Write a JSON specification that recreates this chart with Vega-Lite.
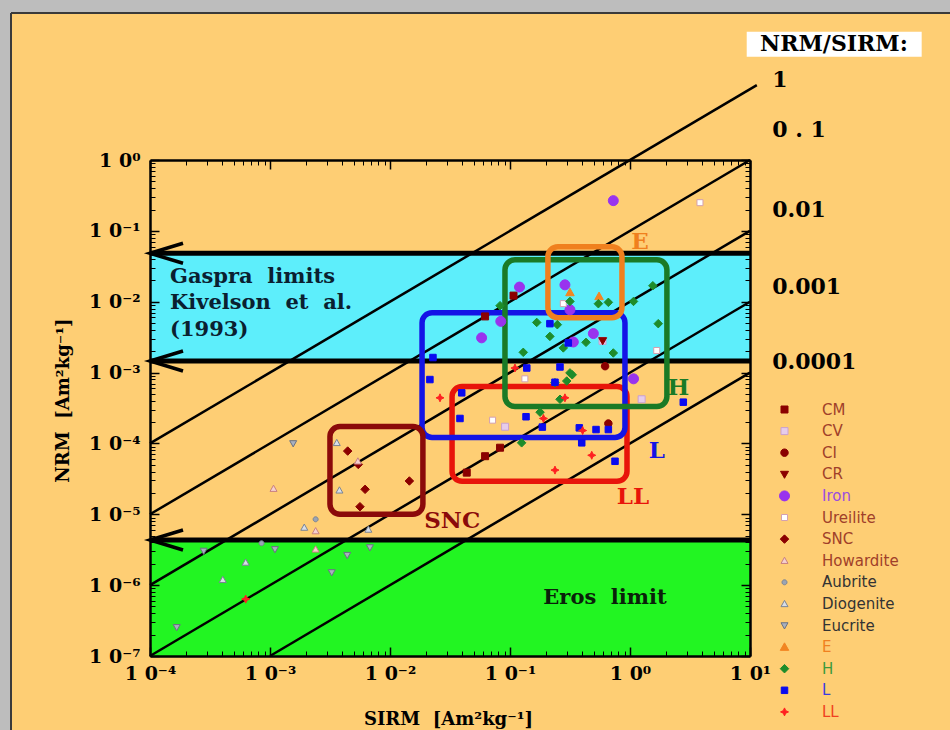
{
  "$schema": "https://vega.github.io/schema/vega-lite/v6.json",
  "width": 600,
  "height": 496,
  "autosize": {"type": "none"},
  "padding": {"left": 150, "top": 160, "right": 200, "bottom": 74},
  "background": "#BDBDBD",
  "config": {"view": {"stroke": null}, "axis": {"grid": false, "tickColor": "black", "domainColor": "black", "labelColor": "black", "titleColor": "black"}},
  "datasets": {
    "frame": [{"x": 6.945e-6, "x2": 5000, "y": 118.8, "y2": 1e-9}],
    "frameedges": [
      {"edge": "left", "x": 6.945e-6, "x2": 6.945e-6, "y": 118.8, "y2": 1e-9},
      {"edge": "top", "x": 6.945e-6, "x2": 5000, "y": 118.8, "y2": 118.8}
    ],
    "gaspra": [{"x": 0.0001, "x2": 10, "y": 0.001457, "y2": 0.04825}],
    "eros": [{"x": 0.0001, "x2": 10, "y": 1e-7, "y2": 4.34e-6}],
    "limits": [
      {"limit": "Gaspra upper", "x": 0.0001, "x2": 10, "y": 0.04825},
      {"limit": "Gaspra lower", "x": 0.0001, "x2": 10, "y": 0.001457},
      {"limit": "Eros", "x": 0.0001, "x2": 10, "y": 4.34e-6}
    ],
    "arrows": [
      {"limit": "Gaspra upper", "k": 0, "x": 0.0001884, "y": 0.0668},
      {"limit": "Gaspra upper", "k": 1, "x": 0.0001, "y": 0.04825},
      {"limit": "Gaspra upper", "k": 2, "x": 0.0001884, "y": 0.03486},
      {"limit": "Gaspra lower", "k": 0, "x": 0.0001884, "y": 0.002017},
      {"limit": "Gaspra lower", "k": 1, "x": 0.0001, "y": 0.001457},
      {"limit": "Gaspra lower", "k": 2, "x": 0.0001884, "y": 0.001053},
      {"limit": "Eros", "k": 0, "x": 0.0001884, "y": 6.01e-6},
      {"limit": "Eros", "k": 1, "x": 0.0001, "y": 4.34e-6},
      {"limit": "Eros", "k": 2, "x": 0.0001884, "y": 3.136e-6}
    ],
    "ratios": [
      {"ratio": "1", "x": 0.0001, "y": 0.0001},
      {"ratio": "1", "x": 11.4, "y": 11.4},
      {"ratio": "0.1", "x": 0.0001, "y": 1e-5},
      {"ratio": "0.1", "x": 10, "y": 1},
      {"ratio": "0.01", "x": 0.0001, "y": 1e-6},
      {"ratio": "0.01", "x": 10, "y": 0.1},
      {"ratio": "0.001", "x": 0.0001, "y": 1e-7},
      {"ratio": "0.001", "x": 10, "y": 0.01},
      {"ratio": "0.0001", "x": 0.001, "y": 1e-7},
      {"ratio": "0.0001", "x": 10, "y": 0.001}
    ],
    "boxes": [
      {"group": "LL", "x": 0.0329, "x2": 0.944, "y": 2.92e-5, "y2": 0.000635},
      {"group": "L", "x": 0.0185, "x2": 0.908, "y": 0.0001215, "y2": 0.007},
      {"group": "H", "x": 0.0908, "x2": 2.03, "y": 0.000332, "y2": 0.0391},
      {"group": "E", "x": 0.207, "x2": 0.857, "y": 0.00595, "y2": 0.0595},
      {"group": "SNC", "x": 0.00316, "x2": 0.0188, "y": 1.0e-5, "y2": 0.000173}
    ],
    "boxlabels": [
      {"group": "E", "x": 1.21, "y": 0.0707},
      {"group": "H", "x": 2.53, "y": 0.000608},
      {"group": "L", "x": 1.67, "y": 7.8e-5},
      {"group": "LL", "x": 1.06, "y": 1.74e-5},
      {"group": "SNC", "x": 0.033, "y": 7.95e-6}
    ],
    "notes": [
      {"label": "Gaspra\u00a0\u00a0limits", "x": 0.0001468, "y": 0.02233},
      {"label": "Kivelson\u00a0\u00a0et\u00a0\u00a0al.", "x": 0.0001468, "y": 0.00959},
      {"label": "(1993)", "x": 0.0001468, "y": 0.00399}
    ],
    "eroslabel": [{"label": "Eros\u00a0\u00a0limit", "x": 0.619, "y": 6.59e-7}],
    "ratiolabels": [
      {"label": "1", "x": 15.3, "y": 13.5},
      {"label": "0\u00a0.\u00a01", "x": 15.3, "y": 2.65},
      {"label": "0.01", "x": 15.3, "y": 0.197},
      {"label": "0.001", "x": 15.3, "y": 0.01614},
      {"label": "0.0001", "x": 15.3, "y": 0.00141}
    ],
    "keybox": [{"x": 9.39, "x2": 269.6, "y": 28.7, "y2": 64.66}],
    "keytitle": [{"label": "NRM/SIRM:", "x": 50.1, "y": 43.4}],
    "meteorites": [
      {"class": "CM", "x": 0.107, "y": 0.0122},
      {"class": "CM", "x": 0.062, "y": 0.0062},
      {"class": "CM", "x": 0.0436, "y": 3.87e-5},
      {"class": "CM", "x": 0.062, "y": 6.6e-5},
      {"class": "CM", "x": 0.0826, "y": 8.7e-5},
      {"class": "CV", "x": 1.25, "y": 0.00042},
      {"class": "CV", "x": 0.091, "y": 0.000172},
      {"class": "CV", "x": 0.59, "y": 0.0028},
      {"class": "CI", "x": 0.62, "y": 0.00123},
      {"class": "CI", "x": 0.66, "y": 0.000191},
      {"class": "CR", "x": 0.592, "y": 0.00282},
      {"class": "Iron", "x": 0.726, "y": 0.267},
      {"class": "Iron", "x": 0.12, "y": 0.0161},
      {"class": "Iron", "x": 0.287, "y": 0.0173},
      {"class": "Iron", "x": 0.316, "y": 0.0077},
      {"class": "Iron", "x": 0.058, "y": 0.00309},
      {"class": "Iron", "x": 0.495, "y": 0.00355},
      {"class": "Iron", "x": 0.337, "y": 0.0027},
      {"class": "Iron", "x": 1.07, "y": 0.000816},
      {"class": "Iron", "x": 0.0838, "y": 0.00528},
      {"class": "Ureilite", "x": 3.83, "y": 0.25},
      {"class": "Ureilite", "x": 0.278, "y": 0.0094},
      {"class": "Ureilite", "x": 1.67, "y": 0.00205},
      {"class": "Ureilite", "x": 0.133, "y": 0.000816},
      {"class": "Ureilite", "x": 0.0716, "y": 0.000213},
      {"class": "SNC", "x": 0.00444, "y": 7.8e-5},
      {"class": "SNC", "x": 0.00544, "y": 5.06e-5},
      {"class": "SNC", "x": 0.0062, "y": 2.25e-5},
      {"class": "SNC", "x": 0.00562, "y": 1.28e-5},
      {"class": "SNC", "x": 0.0145, "y": 2.95e-5},
      {"class": "Howardite", "x": 0.00107, "y": 2.3e-5},
      {"class": "Howardite", "x": 0.0024, "y": 5.8e-6},
      {"class": "Howardite", "x": 0.0024, "y": 3.2e-6},
      {"class": "Howardite", "x": 0.0054, "y": 5.6e-5},
      {"class": "Aubrite", "x": 0.00085, "y": 3.9e-6},
      {"class": "Aubrite", "x": 0.0024, "y": 8.5e-6},
      {"class": "Diogenite", "x": 0.0036, "y": 0.000102},
      {"class": "Diogenite", "x": 0.00379, "y": 2.18e-5},
      {"class": "Diogenite", "x": 0.00193, "y": 6.5e-6},
      {"class": "Diogenite", "x": 0.0066, "y": 6.1e-6},
      {"class": "Diogenite", "x": 0.000627, "y": 2.09e-6},
      {"class": "Diogenite", "x": 0.000404, "y": 1.19e-6},
      {"class": "Eucrite", "x": 0.00156, "y": 0.0001},
      {"class": "Eucrite", "x": 0.00028, "y": 3.04e-6},
      {"class": "Eucrite", "x": 0.0011, "y": 3.2e-6},
      {"class": "Eucrite", "x": 0.0044, "y": 2.65e-6},
      {"class": "Eucrite", "x": 0.0068, "y": 3.4e-6},
      {"class": "Eucrite", "x": 0.00327, "y": 1.51e-6},
      {"class": "Eucrite", "x": 0.000167, "y": 2.54e-7},
      {"class": "E", "x": 0.316, "y": 0.0135},
      {"class": "E", "x": 0.552, "y": 0.0119},
      {"class": "H", "x": 0.316, "y": 0.0101},
      {"class": "H", "x": 0.545, "y": 0.00937},
      {"class": "H", "x": 0.66, "y": 0.0098},
      {"class": "H", "x": 1.07, "y": 0.0101},
      {"class": "H", "x": 1.55, "y": 0.0168},
      {"class": "H", "x": 1.72, "y": 0.0049},
      {"class": "H", "x": 0.0826, "y": 0.00879},
      {"class": "H", "x": 0.167, "y": 0.0051},
      {"class": "H", "x": 0.248, "y": 0.00474},
      {"class": "H", "x": 0.215, "y": 0.00324},
      {"class": "H", "x": 0.43, "y": 0.00267},
      {"class": "H", "x": 0.278, "y": 0.00223},
      {"class": "H", "x": 0.129, "y": 0.00193},
      {"class": "H", "x": 0.726, "y": 0.00189},
      {"class": "H", "x": 0.316, "y": 0.00099},
      {"class": "H", "x": 0.297, "y": 0.00076},
      {"class": "H", "x": 0.261, "y": 0.00042},
      {"class": "H", "x": 0.178, "y": 0.000276},
      {"class": "H", "x": 0.125, "y": 0.000102},
      {"class": "H", "x": 0.237, "y": 0.00072},
      {"class": "H", "x": 0.33, "y": 0.00093},
      {"class": "L", "x": 0.215, "y": 0.0049},
      {"class": "L", "x": 0.306, "y": 0.00262},
      {"class": "L", "x": 0.138, "y": 0.00116},
      {"class": "L", "x": 0.261, "y": 0.0012},
      {"class": "L", "x": 0.0215, "y": 0.000797},
      {"class": "L", "x": 0.237, "y": 0.00073},
      {"class": "L", "x": 0.0396, "y": 0.000518},
      {"class": "L", "x": 0.0383, "y": 0.000225},
      {"class": "L", "x": 0.136, "y": 0.000238},
      {"class": "L", "x": 0.186, "y": 0.00017},
      {"class": "L", "x": 0.378, "y": 0.000166},
      {"class": "L", "x": 0.521, "y": 0.000157},
      {"class": "L", "x": 0.66, "y": 0.000157},
      {"class": "L", "x": 0.396, "y": 0.000102},
      {"class": "L", "x": 0.75, "y": 5.6e-5},
      {"class": "L", "x": 2.78, "y": 0.000382},
      {"class": "L", "x": 0.0228, "y": 0.00163},
      {"class": "LL", "x": 0.11, "y": 0.00116},
      {"class": "LL", "x": 0.287, "y": 0.00044},
      {"class": "LL", "x": 0.0261, "y": 0.00044},
      {"class": "LL", "x": 0.19, "y": 0.000225},
      {"class": "LL", "x": 0.403, "y": 0.000152},
      {"class": "LL", "x": 0.48, "y": 6.8e-5},
      {"class": "LL", "x": 0.237, "y": 4.2e-5},
      {"class": "LL", "x": 0.000627, "y": 6.35e-7}
    ]
  },
  "encoding": {
    "x": {"field": "x", "type": "quantitative", "scale": {"type": "log", "domain": [0.0001, 10], "nice": false}, "axis": null},
    "y": {"field": "y", "type": "quantitative", "scale": {"type": "log", "domain": [1e-7, 1], "nice": false}, "axis": null}
  },
  "resolve": {"axis": {"x": "independent", "y": "independent"}},
  "layer": [
    {
      "data": {"name": "frame"},
      "mark": {"type": "rect", "fill": "#FECE74", "clip": false},
      "encoding": {"x2": {"field": "x2"}, "y2": {"field": "y2"}}
    },
    {
      "data": {"name": "frameedges"},
      "mark": {"type": "rule", "color": "#3A3A3A", "strokeWidth": 2, "clip": false},
      "encoding": {"x2": {"field": "x2"}, "y2": {"field": "y2"}, "detail": {"field": "edge"}}
    },
    {
      "data": {"name": "gaspra"},
      "mark": {"type": "rect", "fill": "#5DEEFB"},
      "encoding": {
        "x": {"field": "x", "type": "quantitative", "scale": {"type": "log", "domain": [0.0001, 10], "nice": false},
          "axis": {"orient": "bottom", "values": [0.0001, 0.001, 0.01, 0.1, 1, 10], "tickSize": -9, "tickWidth": 1.5, "domain": true, "domainWidth": 2.5, "zindex": 1,
            "labelExpr": "'1 0' + (datum.value > 5 ? '¹' : datum.value > 0.5 ? '⁰' : '⁻' + ['','¹','²','³','⁴'][round(-log(datum.value)/LN10)])",
            "labelFont": "DejaVu Serif", "labelFontWeight": "bold", "labelFontSize": 19, "labelPadding": 26, "labelFlush": false, "labelOverlap": false, "labelBaseline": "middle",
            "title": "SIRM\u00a0\u00a0[Am²kg⁻¹]", "titleFont": "DejaVu Serif", "titleFontWeight": "bold", "titleFontSize": 18, "titleX": 298, "titleY": 68, "titleBaseline": "alphabetic"}},
        "x2": {"field": "x2"},
        "y": {"field": "y", "type": "quantitative", "scale": {"type": "log", "domain": [1e-7, 1], "nice": false},
          "axis": {"orient": "left", "values": [1, 0.1, 0.01, 0.001, 0.0001, 0.00001, 0.000001, 1e-7], "tickSize": -9, "tickWidth": 1.5, "domain": true, "domainWidth": 2.5, "zindex": 1,
            "labelExpr": "'1 0' + (datum.value > 0.5 ? '⁰' : '⁻' + ['','¹','²','³','⁴','⁵','⁶','⁷'][round(-log(datum.value)/LN10)])",
            "labelFont": "DejaVu Serif", "labelFontWeight": "bold", "labelFontSize": 19, "labelPadding": 19, "labelFlush": false, "labelOverlap": false, "labelBaseline": "middle",
            "title": "NRM\u00a0\u00a0[Am²kg⁻¹]", "titleFont": "DejaVu Serif", "titleFontWeight": "bold", "titleFontSize": 18, "titleX": -82, "titleY": 240, "titleAngle": -90, "titleBaseline": "alphabetic"}},
        "y2": {"field": "y2"}
      }
    },
    {
      "data": {"name": "eros"},
      "mark": {"type": "rect", "fill": "#22F522"},
      "encoding": {
        "x": {"field": "x", "type": "quantitative", "scale": {"type": "log", "domain": [0.0001, 10], "nice": false},
          "axis": {"orient": "bottom", "values": [0.0002,0.0003,0.0004,0.0005,0.0006,0.0007,0.0008,0.0009,0.002,0.003,0.004,0.005,0.006,0.007,0.008,0.009,0.02,0.03,0.04,0.05,0.06,0.07,0.08,0.09,0.2,0.3,0.4,0.5,0.6,0.7,0.8,0.9,2,3,4,5,6,7,8,9], "tickSize": -5, "tickWidth": 1, "labels": false, "domain": false, "title": null, "zindex": 1}},
        "x2": {"field": "x2"},
        "y": {"field": "y", "type": "quantitative", "scale": {"type": "log", "domain": [1e-7, 1], "nice": false},
          "axis": {"orient": "left", "values": [2e-7,3e-7,4e-7,5e-7,6e-7,7e-7,8e-7,9e-7,2e-6,3e-6,4e-6,5e-6,6e-6,7e-6,8e-6,9e-6,2e-5,3e-5,4e-5,5e-5,6e-5,7e-5,8e-5,9e-5,0.0002,0.0003,0.0004,0.0005,0.0006,0.0007,0.0008,0.0009,0.002,0.003,0.004,0.005,0.006,0.007,0.008,0.009,0.02,0.03,0.04,0.05,0.06,0.07,0.08,0.09,0.2,0.3,0.4,0.5,0.6,0.7,0.8,0.9], "tickSize": -5, "tickWidth": 1, "labels": false, "domain": false, "title": null, "zindex": 1}},
        "y2": {"field": "y2"}
      }
    },
    {
      "data": {"name": "limits"},
      "mark": {"type": "rule", "color": "black", "strokeWidth": 5},
      "encoding": {
        "x": {"field": "x", "type": "quantitative", "scale": {"type": "log", "domain": [0.0001, 10], "nice": false},
          "axis": {"orient": "top", "values": [0.0001, 0.001, 0.01, 0.1, 1, 10], "tickSize": -9, "tickWidth": 1.5, "labels": false, "domain": true, "domainWidth": 2.5, "title": null, "zindex": 1}},
        "x2": {"field": "x2"},
        "y": {"field": "y", "type": "quantitative", "scale": {"type": "log", "domain": [1e-7, 1], "nice": false},
          "axis": {"orient": "right", "values": [1, 0.1, 0.01, 0.001, 0.0001, 0.00001, 0.000001, 1e-7], "tickSize": -9, "tickWidth": 1.5, "labels": false, "domain": true, "domainWidth": 2.5, "title": null, "zindex": 1}}
      }
    },
    {
      "data": {"name": "arrows"},
      "mark": {"type": "line", "color": "black", "strokeWidth": 3.5},
      "encoding": {
        "x": {"field": "x", "type": "quantitative", "scale": {"type": "log", "domain": [0.0001, 10], "nice": false},
          "axis": {"orient": "top", "values": [0.0002,0.0003,0.0004,0.0005,0.0006,0.0007,0.0008,0.0009,0.002,0.003,0.004,0.005,0.006,0.007,0.008,0.009,0.02,0.03,0.04,0.05,0.06,0.07,0.08,0.09,0.2,0.3,0.4,0.5,0.6,0.7,0.8,0.9,2,3,4,5,6,7,8,9], "tickSize": -5, "tickWidth": 1, "labels": false, "domain": false, "title": null, "zindex": 1}},
        "y": {"field": "y", "type": "quantitative", "scale": {"type": "log", "domain": [1e-7, 1], "nice": false},
          "axis": {"orient": "right", "values": [2e-7,3e-7,4e-7,5e-7,6e-7,7e-7,8e-7,9e-7,2e-6,3e-6,4e-6,5e-6,6e-6,7e-6,8e-6,9e-6,2e-5,3e-5,4e-5,5e-5,6e-5,7e-5,8e-5,9e-5,0.0002,0.0003,0.0004,0.0005,0.0006,0.0007,0.0008,0.0009,0.002,0.003,0.004,0.005,0.006,0.007,0.008,0.009,0.02,0.03,0.04,0.05,0.06,0.07,0.08,0.09,0.2,0.3,0.4,0.5,0.6,0.7,0.8,0.9], "tickSize": -5, "tickWidth": 1, "labels": false, "domain": false, "title": null, "zindex": 1}},
        "detail": {"field": "limit"},
        "order": {"field": "k"}
      }
    },
    {
      "data": {"name": "ratios"},
      "mark": {"type": "line", "color": "black", "strokeWidth": 2.5, "clip": false},
      "encoding": {"detail": {"field": "ratio"}}
    },
    {
      "data": {"name": "boxes"},
      "mark": {"type": "rect", "filled": false, "strokeWidth": 5.5, "cornerRadius": 10, "opacity": 1},
      "encoding": {
        "x2": {"field": "x2"}, "y2": {"field": "y2"},
        "color": {"field": "group", "type": "nominal", "scale": {"domain": ["LL", "L", "H", "E", "SNC"], "range": ["#E8140A", "#1414E6", "#1A7A26", "#F0801E", "#8B0A0A"]}, "legend": null}
      }
    },
    {
      "data": {"name": "meteorites"},
      "mark": {"type": "point", "size": 100, "strokeWidth": 1, "opacity": 1, "filled": false},
      "encoding": {
        "fill": {"field": "class", "type": "nominal",
          "scale": {"domain": ["CM","CV","CI","CR","Iron","Ureilite","SNC","Howardite","Aubrite","Diogenite","Eucrite","E","H","L","LL"],
            "range": ["#8B0000","#E6CCEB","#8B0000","#8B0000","#9933EE","#FFFFFF","#8B0000","#F5D0D0","#9AA4B4","#D8DEE8","#A8B0C0","#F28522","#1E8C2A","#0A0AF0","#FF2020"]},
          "legend": {"orient": "none", "legendX": 627, "legendY": 242, "title": null, "padding": 0, "rowPadding": 5.6, "labelFont": "DejaVu Sans", "labelFontSize": 15, "labelOffset": 30, "symbolSize": 100, "symbolStrokeWidth": 1,
            "labelColor": {"expr": "datum.value == 'Iron' ? '#9B4DE0' : (datum.value == 'Aubrite' || datum.value == 'Diogenite' || datum.value == 'Eucrite') ? '#333333' : datum.value == 'E' ? '#F08020' : datum.value == 'H' ? '#3C9A3C' : datum.value == 'L' ? '#3C3CE0' : datum.value == 'LL' ? '#F04020' : '#A0402A'"}}},
        "stroke": {"field": "class", "type": "nominal",
          "scale": {"domain": ["CM","CV","CI","CR","Iron","Ureilite","SNC","Howardite","Aubrite","Diogenite","Eucrite","E","H","L","LL"],
            "range": ["#8B0000","#C9A0D0","#8B0000","#8B0000","#9933EE","#D4A0B0","#8B0000","#C88080","#7A8494","#7A8494","#6A7282","#F28522","#1E8C2A","#0A0AF0","#FF2020"]},
          "legend": {"orient": "none", "legendX": 627, "legendY": 242, "title": null, "padding": 0, "rowPadding": 5.6, "labelFont": "DejaVu Sans", "labelFontSize": 15, "labelOffset": 30, "symbolSize": 100, "symbolStrokeWidth": 1,
            "labelColor": {"expr": "datum.value == 'Iron' ? '#9B4DE0' : (datum.value == 'Aubrite' || datum.value == 'Diogenite' || datum.value == 'Eucrite') ? '#333333' : datum.value == 'E' ? '#F08020' : datum.value == 'H' ? '#3C9A3C' : datum.value == 'L' ? '#3C3CE0' : datum.value == 'LL' ? '#F04020' : '#A0402A'"}}},
        "shape": {"field": "class", "type": "nominal",
          "scale": {"domain": ["CM","CV","CI","CR","Iron","Ureilite","SNC","Howardite","Aubrite","Diogenite","Eucrite","E","H","L","LL"],
            "range": [
              "M-0.7,-0.7H0.7V0.7H-0.7Z",
              "M-0.7,-0.7H0.7V0.7H-0.7Z",
              "M0.75,0A0.75,0.75,0,1,1,-0.75,0A0.75,0.75,0,1,1,0.75,0Z",
              "M-0.8,-0.6L0.8,-0.6L0,0.8Z",
              "M1,0A1,1,0,1,1,-1,0A1,1,0,1,1,1,0Z",
              "M-0.6,-0.6H0.6V0.6H-0.6Z",
              "M0,-0.85L0.85,0L0,0.85L-0.85,0Z",
              "M0,-0.7L0.7,0.55L-0.7,0.55Z",
              "M0.5,0A0.5,0.5,0,1,1,-0.5,0A0.5,0.5,0,1,1,0.5,0Z",
              "M0,-0.7L0.7,0.55L-0.7,0.55Z",
              "M-0.7,-0.55L0.7,-0.55L0,0.7Z",
              "M0,-0.85L0.85,0.65L-0.85,0.65Z",
              "M0,-0.85L0.85,0L0,0.85L-0.85,0Z",
              "M-0.65,-0.65H0.65V0.65H-0.65Z",
              "M0,-0.8L0.25,-0.25L0.8,0L0.25,0.25L0,0.8L-0.25,0.25L-0.8,0L-0.25,-0.25Z"
            ]},
          "legend": {"orient": "none", "legendX": 627, "legendY": 242, "title": null, "padding": 0, "rowPadding": 5.6, "labelFont": "DejaVu Sans", "labelFontSize": 15, "labelOffset": 30, "symbolSize": 100, "symbolStrokeWidth": 1,
            "labelColor": {"expr": "datum.value == 'Iron' ? '#9B4DE0' : (datum.value == 'Aubrite' || datum.value == 'Diogenite' || datum.value == 'Eucrite') ? '#333333' : datum.value == 'E' ? '#F08020' : datum.value == 'H' ? '#3C9A3C' : datum.value == 'L' ? '#3C3CE0' : datum.value == 'LL' ? '#F04020' : '#A0402A'"}}}
      }
    },
    {
      "data": {"name": "boxlabels"},
      "mark": {"type": "text", "font": "DejaVu Serif", "fontWeight": "bold", "fontSize": 23, "align": "center", "baseline": "middle", "clip": false},
      "encoding": {
        "text": {"field": "group"},
        "color": {"field": "group", "type": "nominal", "scale": {"domain": ["LL", "L", "H", "E", "SNC"], "range": ["#E8140A", "#1414E6", "#1A7A26", "#F0801E", "#8B0A0A"]}, "legend": null}
      }
    },
    {
      "data": {"name": "notes"},
      "mark": {"type": "text", "font": "DejaVu Serif", "fontWeight": "bold", "fontSize": 21, "align": "left", "baseline": "middle", "color": "#0A2030"},
      "encoding": {"text": {"field": "label"}}
    },
    {
      "data": {"name": "eroslabel"},
      "mark": {"type": "text", "font": "DejaVu Serif", "fontWeight": "bold", "fontSize": 21, "align": "center", "baseline": "middle", "color": "#0A200A"},
      "encoding": {"text": {"field": "label"}}
    },
    {
      "data": {"name": "ratiolabels"},
      "mark": {"type": "text", "font": "DejaVu Serif", "fontWeight": "bold", "fontSize": 22, "align": "left", "baseline": "middle", "color": "black", "clip": false},
      "encoding": {"text": {"field": "label"}}
    },
    {
      "data": {"name": "keybox"},
      "mark": {"type": "rect", "fill": "white", "clip": false},
      "encoding": {"x2": {"field": "x2"}, "y2": {"field": "y2"}}
    },
    {
      "data": {"name": "keytitle"},
      "mark": {"type": "text", "font": "DejaVu Serif", "fontWeight": "bold", "fontSize": 22, "align": "center", "baseline": "middle", "color": "black", "clip": false},
      "encoding": {"text": {"field": "label"}}
    }
  ]
}
